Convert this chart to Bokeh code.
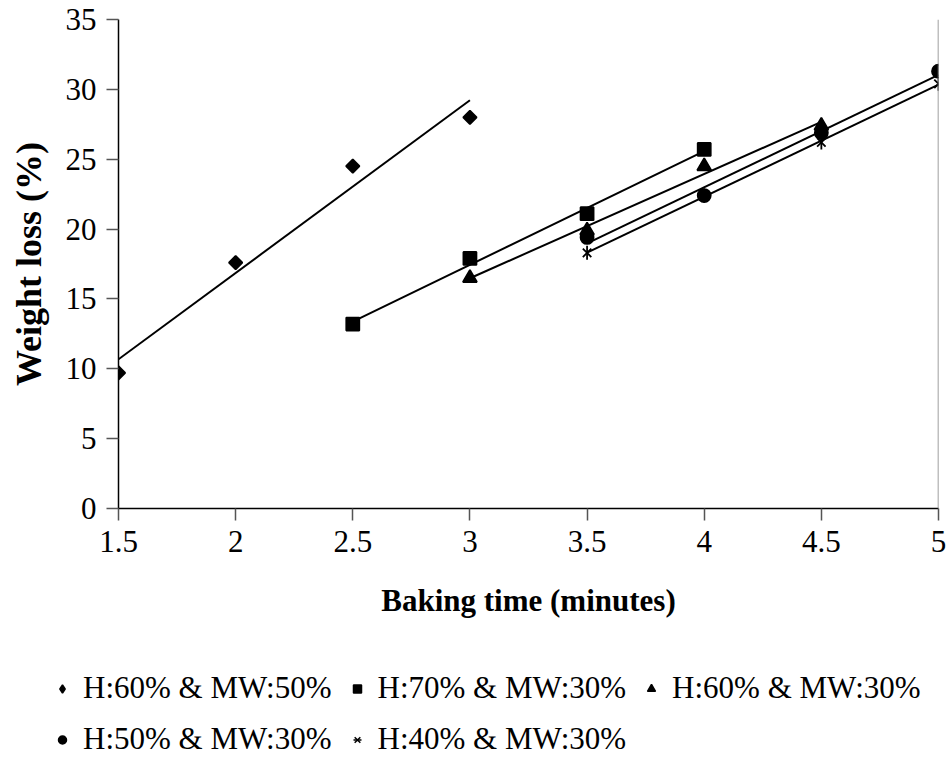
import numpy as np
from bokeh.plotting import figure
from bokeh.layouts import column
from bokeh.models import Legend, LegendItem, Span, FixedTicker, Range1d
from bokeh.embed import file_html
from bokeh.resources import INLINE

# ---- data ----
labels = ["H:60% & MW:50%", "H:70% & MW:30%", "H:60% & MW:30%",
          "H:50% & MW:30%", "H:40% & MW:30%"]

x_h60_mw50 = [1.5, 2.0, 2.5, 3.0]
y_h60_mw50 = [9.7, 17.6, 24.5, 28.0]

x_h70_mw30 = [2.5, 3.0, 3.5, 4.0]
y_h70_mw30 = [13.2, 17.9, 21.1, 25.7]

x_h60_mw30 = [3.0, 3.5, 4.0, 4.5]
y_h60_mw30 = [16.5, 19.9, 24.5, 27.4]

x_h50_mw30 = [3.5, 4.0, 4.5, 5.0]
y_h50_mw30 = [19.4, 22.4, 26.9, 31.3]

x_h40_mw30 = [3.5, 4.0, 4.5, 5.0]
y_h40_mw30 = [18.3, 22.4, 26.2, 30.4]

x_ticks = [1.5, 2.0, 2.5, 3.0, 3.5, 4.0, 4.5, 5.0]
x_tick_labels = ["1.5", "2", "2.5", "3", "3.5", "4", "4.5", "5"]
y_ticks = [0, 5, 10, 15, 20, 25, 30, 35]

FONT = "Liberation Serif"

p = figure(width=950, height=640,
           x_range=Range1d(1.5, 5.0), y_range=Range1d(0, 35),
           output_backend="svg", toolbar_location=None,
           min_border_left=118, min_border_right=12,
           min_border_top=19, min_border_bottom=132)
p.outline_line_color = None
p.grid.visible = False
p.background_fill_color = "white"
p.border_fill_color = "white"

# axes
p.xaxis.ticker = FixedTicker(ticks=x_ticks)
p.xaxis.major_label_overrides = {t: l for t, l in zip(x_ticks, x_tick_labels)}
p.yaxis.ticker = FixedTicker(ticks=y_ticks)
for ax in (p.xaxis[0], p.yaxis[0]):
    ax.axis_line_color = "black"
    ax.axis_line_width = 1.5
    ax.major_tick_line_color = "#555555"
    ax.major_tick_line_width = 1.5
    ax.major_tick_out = 12
    ax.major_tick_in = 0
    ax.minor_tick_line_color = None
    ax.major_label_text_font = FONT
    ax.major_label_text_font_size = "31px"
    ax.major_label_text_color = "black"
    ax.axis_label_text_font = FONT
    ax.axis_label_text_font_style = "bold"
    ax.axis_label_text_color = "black"

p.xaxis.axis_label = "Baking time (minutes)"
p.yaxis.axis_label = "Weight loss (%)"
p.xaxis.axis_label_text_font_size = "31px"
p.yaxis.axis_label_text_font_size = "36px"
p.xaxis.major_label_standoff = 10
p.xaxis.axis_label_standoff = 28
p.yaxis.major_label_standoff = 10
p.yaxis.axis_label_standoff = 14

# right border line
p.add_layout(Span(location=5.0, dimension="height", line_color="#808080", line_width=1.5))

# (marker in plot, size, angle, marker in key, key size)
series = [
    (x_h60_mw50, y_h60_mw50, "square", 9.5, np.pi / 4, "diamond", 15),
    (x_h70_mw30, y_h70_mw30, "square", 13, 0.0, "square", 11),
    (x_h60_mw30, y_h60_mw30, "triangle", 14, 0.0, "triangle", 12),
    (x_h50_mw30, y_h50_mw30, "circle", 13, 0.0, "circle", 11),
    (x_h40_mw30, y_h40_mw30, "x", 12, 0.0, "x", 11),
]

# legend-only figure below the chart (its key glyphs sit outside its view)
lf = figure(width=950, height=118, x_range=Range1d(-10, -9), y_range=Range1d(-10, -9),
            output_backend="svg", toolbar_location=None,
            min_border=0, x_axis_location=None, y_axis_location=None)
lf.outline_line_color = None
lf.grid.visible = False
try:
    lf.frame_align = False
except Exception:
    pass

items = []
for (xs, ys, marker, size, angle, kmarker, ksize), lab in zip(series, labels):
    xa = np.array(xs)
    ya = np.array(ys)
    slope, icpt = np.polyfit(xa, ya, 1)
    xl = np.array([xa.min(), xa.max()])
    p.line(xl, slope * xl + icpt, line_color="black", line_width=2)
    p.scatter(xs, ys, marker=marker, size=size, angle=angle,
              fill_color="black", line_color="black", line_width=1.8)
    if marker == "x":
        p.scatter(xs, ys, marker="dash", size=14, angle=np.pi / 2,
                  line_color="black", line_width=1.8)
    lr = lf.scatter(xs, ys, marker=kmarker, size=ksize,
                    fill_color="black", line_color="black", line_width=1.5)
    rends = [lr]
    if marker == "x":
        rends.append(lf.scatter(xs, ys, marker="dash", size=13, angle=np.pi / 2,
                                line_color="black", line_width=1.5))
    items.append(LegendItem(label=lab, renderers=rends))

legend = Legend(items=items, orientation="horizontal", ncols=3,
                location=(52, 1))
legend.label_text_font = FONT
legend.label_text_font_size = "31px"
legend.label_text_color = "black"
legend.label_height = 33
legend.glyph_height = 33
legend.glyph_width = 20
legend.label_standoff = 11
legend.spacing = 15
legend.padding = 0
legend.margin = 0
legend.border_line_color = None
legend.background_fill_alpha = 0
lf.add_layout(legend, "center")

open("out.html", "w").write(file_html(column(p, lf, spacing=0), INLINE))
